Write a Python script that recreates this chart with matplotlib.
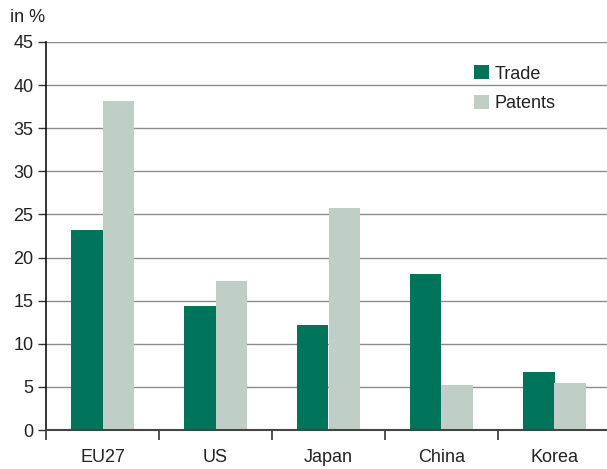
import matplotlib.pyplot as plt
import numpy as np

plt.rcParams["font.family"] = ["Liberation Sans", "DejaVu Sans"]

regions = ["EU27", "US", "Japan", "China", "Korea"]
trade = [23.2, 14.4, 12.2, 18.1, 6.7]
patents = [38.2, 17.3, 25.7, 5.2, 5.4]
y_ticks = [0, 5, 10, 15, 20, 25, 30, 35, 40, 45]

trade_color = "#00745A"
patent_color = "#BFCFC8"
text_color = "#222222"

fig = plt.figure(figsize=(6.07, 4.69), dpi=100)
ax = fig.add_axes([46 / 607, 39 / 469, 565 / 607, 388 / 469])

x = np.arange(len(regions))
w = 0.283
ax.bar(x - w / 2, trade, width=w, color=trade_color, label="Trade", zorder=2)
ax.bar(x + w / 2, patents, width=w, color=patent_color, label="Patents", zorder=2)

ax.set_xlim(-0.5, len(regions) - 0.5)
ax.set_ylim(0, 45)
ax.set_yticks(y_ticks)
ax.yaxis.grid(True, color="#8c8c8c", linewidth=1.0, zorder=0)
ax.set_axisbelow(True)

ax.set_xticks(x)
ax.set_xticklabels(regions)
ax.set_xticks(np.arange(-0.5, len(regions), 1.0), minor=True)
ax.tick_params(axis="x", which="major", length=0, pad=14, labelsize=13, labelcolor=text_color)
ax.tick_params(axis="x", which="minor", length=7, width=1.2, color="#333333", direction="out")
ax.tick_params(axis="y", length=6, width=1.0, color="#333333", labelsize=13, labelcolor=text_color, pad=3)

for side in ("top", "right"):
    ax.spines[side].set_visible(False)
ax.spines["left"].set_color("#111111")
ax.spines["left"].set_linewidth(1.2)
ax.spines["bottom"].set_color("#444444")
ax.spines["bottom"].set_linewidth(1.5)

fig.text(10 / 607, 1 - 17 / 469, "in %", fontsize=13, color=text_color, va="center", ha="left")

ax.legend(loc="upper left", bbox_to_anchor=(0.729, 0.982), frameon=False,
          fontsize=13, handlelength=0.83, handleheight=0.83, handletextpad=0.3,
          labelspacing=0.67, labelcolor=text_color)

fig.savefig("out.png", dpi=100)
